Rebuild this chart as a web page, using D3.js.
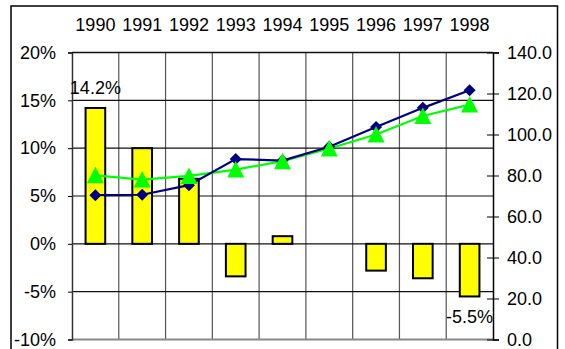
<!DOCTYPE html>
<html>
<head>
<meta charset="utf-8">
<script src="https://cdn.jsdelivr.net/npm/d3@7"></script>
<style>
  html, body { margin: 0; padding: 0; background: #fff; }
  svg { display: block; }
  text { font-family: "Liberation Sans", Arial, sans-serif; font-size: 18px; fill: #000; }
</style>
</head>
<body>
<svg id="chart" width="565" height="349"></svg>
<script>
// Years along the top axis
const years = ["1990", "1991", "1992", "1993", "1994", "1995", "1996", "1997", "1998"];
// Annual change, percent (bars, left axis)
const changePct = [14.2, 10.0, 6.8, -3.4, 0.8, 0.0, -2.8, -3.6, -5.5];
// Index series on the right axis
const indexNavy = [70.4, 70.6, 75.3, 88.0, 87.3, 94.0, 103.7, 113.0, 121.6];
const indexGreen = [80.1, 78.0, 79.8, 82.9, 87.0, 93.2, 100.0, 109.0, 114.6];
// Tick values
const leftTicks = [-10, -5, 0, 5, 10, 15, 20];
const rightTicks = [0, 20, 40, 60, 80, 100, 120, 140];
// Bars that carry a value label
const labelledYears = ["1990", "1998"];

const svg = d3.select("#chart");

const plot = { left: 72, right: 493, top: 52.5, bottom: 339.5 };

const x = d3.scaleBand().domain(years).range([plot.left, plot.right]).paddingInner(0).paddingOuter(0);
const yL = d3.scaleLinear().domain([-10, 20]).range([plot.bottom, plot.top]);
const yR = d3.scaleLinear().domain([0, 140]).range([plot.bottom, plot.top]);

// Outer frame (its bottom edge runs below the visible area)
svg.append("rect")
  .attr("x", 11).attr("y", 6)
  .attr("width", 546.5).attr("height", 400)
  .attr("fill", "none").attr("stroke", "#000").attr("stroke-width", 1.5);

// Vertical gridlines at category boundaries
const g = svg.append("g");
g.selectAll("line.vgrid")
  .data(years.slice(1))
  .join("line")
  .attr("class", "vgrid")
  .attr("x1", d => x(d)).attr("x2", d => x(d))
  .attr("y1", plot.top).attr("y2", plot.bottom)
  .attr("stroke", "#555").attr("stroke-width", 1.2);

// Horizontal gridlines at left-axis ticks
g.selectAll("line.hgrid")
  .data(leftTicks.filter(t => t > -10))
  .join("line")
  .attr("class", "hgrid")
  .attr("x1", plot.left).attr("x2", plot.right)
  .attr("y1", d => yL(d)).attr("y2", d => yL(d))
  .attr("stroke", "#111").attr("stroke-width", 1.2);

// Bottom edge of the plot
svg.append("line")
  .attr("x1", plot.left).attr("x2", plot.right)
  .attr("y1", plot.bottom).attr("y2", plot.bottom)
  .attr("stroke", "#888").attr("stroke-width", 2);

// Bars
const barW = x.bandwidth() * 0.42;
svg.append("g").selectAll("rect")
  .data(years.map((y, i) => ({ year: y, v: changePct[i] })).filter(d => d.v !== 0))
  .join("rect")
  .attr("x", d => x(d.year) + (x.bandwidth() - barW) / 2)
  .attr("y", d => yL(Math.max(0, d.v)))
  .attr("width", barW)
  .attr("height", d => Math.abs(yL(d.v) - yL(0)))
  .attr("fill", "#ffff00").attr("stroke", "#000").attr("stroke-width", 2);

// Left axis
const axL = svg.append("g")
  .attr("transform", `translate(${plot.left},0)`)
  .call(d3.axisLeft(yL).tickValues(leftTicks).tickSize(4).tickPadding(12).tickFormat(d => d + "%"));
axL.select(".domain").attr("stroke", "#333").attr("stroke-width", 1.5);
axL.selectAll(".tick line").attr("stroke", "#000");
axL.selectAll("text").style("font-size", "18px").attr("font-family", null);

// Right axis
const axR = svg.append("g")
  .attr("transform", `translate(${plot.right},0)`)
  .call(d3.axisRight(yR).tickValues(rightTicks).tickSize(6).tickPadding(8).tickFormat(d3.format(".1f")));
axR.select(".domain").attr("stroke", "#000").attr("stroke-width", 1.5);
axR.selectAll(".tick line").attr("x1", -6).attr("stroke", "#000");
axR.selectAll("text").style("font-size", "18px").attr("font-family", null);

// Top plot edge
svg.append("line")
  .attr("x1", plot.left).attr("x2", plot.right)
  .attr("y1", plot.top).attr("y2", plot.top)
  .attr("stroke", "#111").attr("stroke-width", 1.5);

// Year labels above the plot
svg.append("g").selectAll("text")
  .data(years)
  .join("text")
  .attr("x", d => x(d) + x.bandwidth() / 2)
  .attr("y", 30.5)
  .attr("text-anchor", "middle")
  .text(d => d);

// Lines with markers
const cx = (d, i) => x(years[i]) + x.bandwidth() / 2;
const lineGen = d3.line().x(cx).y(d => yR(d));

svg.append("path").datum(indexGreen)
  .attr("d", lineGen).attr("fill", "none")
  .attr("stroke", "#00ff00").attr("stroke-width", 2.2);
svg.append("path").datum(indexNavy)
  .attr("d", lineGen).attr("fill", "none")
  .attr("stroke", "#000080").attr("stroke-width", 2.2);

// Diamond markers for the navy series
svg.append("g").selectAll("path")
  .data(indexNavy)
  .join("path")
  .attr("transform", (d, i) => `translate(${cx(d, i)},${yR(d)})`)
  .attr("d", "M0,-6L6,0L0,6L-6,0Z")
  .attr("fill", "#000080");

// Triangle markers for the green series
svg.append("g").selectAll("path")
  .data(indexGreen)
  .join("path")
  .attr("transform", (d, i) => `translate(${cx(d, i)},${yR(d)})`)
  .attr("d", "M0,-8.5L8.5,8L-8.5,8Z")
  .attr("fill", "#00ff00");

// Value labels on the first and last bars
svg.append("g").selectAll("text")
  .data(years.map((y, i) => ({ year: y, v: changePct[i] })).filter(d => labelledYears.includes(d.year)))
  .join("text")
  .attr("x", d => x(d.year) + x.bandwidth() / 2)
  .attr("y", d => d.v >= 0 ? yL(d.v) - 14 : yL(d.v) + 26.5)
  .attr("text-anchor", "middle")
  .text(d => d.v.toFixed(1) + "%");
</script>
</body>
</html>
